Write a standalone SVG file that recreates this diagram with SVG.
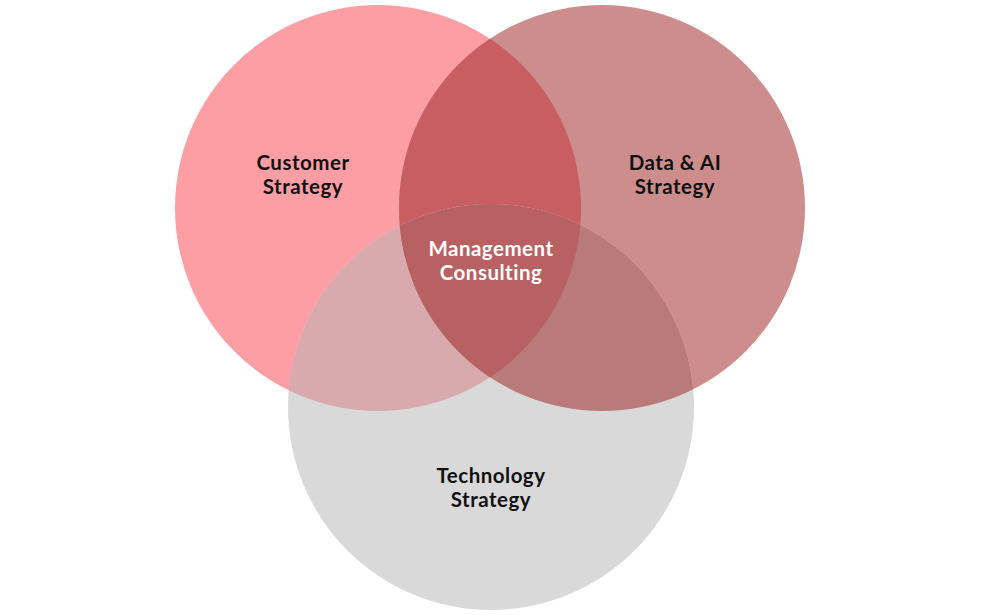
<svg xmlns="http://www.w3.org/2000/svg" width="986" height="615" viewBox="0 0 986 615">
<style>
.lbl{font-family:"Lato","Open Sans","DejaVu Sans",sans-serif;font-weight:700;font-size:20.5px;letter-spacing:0.5px;text-anchor:middle;fill:#111111}
.w{fill:#ffffff}
</style>
<defs>
<clipPath id="clipL"><circle cx="378" cy="208" r="203"/></clipPath>
<clipPath id="clipR"><circle cx="602" cy="208" r="203"/></clipPath>
</defs>
<rect width="986" height="615" fill="#ffffff"/>
<g id="customer">
<circle cx="378" cy="208" r="203" fill="#FD9DA4"/>
</g>
<g id="data-ai">
<circle cx="602" cy="208" r="203" fill="#CD8D8D"/>
<circle cx="602" cy="208" r="203" fill="#C95E62" clip-path="url(#clipL)"/>
</g>
<g id="technology">
<circle cx="491" cy="407" r="203" fill="#D9D9D9"/>
<circle cx="491" cy="407" r="203" fill="#D8A9AD" clip-path="url(#clipL)"/>
<circle cx="491" cy="407" r="203" fill="#B97A7A" clip-path="url(#clipR)"/>
<g clip-path="url(#clipR)"><circle cx="491" cy="407" r="203" fill="#B86163" clip-path="url(#clipL)"/></g>
</g>
<g id="labels">
<text class="lbl" x="303" y="170">Customer</text>
<text class="lbl" x="303" y="194">Strategy</text>
<text class="lbl" x="675" y="170">Data &amp; AI</text>
<text class="lbl" x="675" y="194">Strategy</text>
<text class="lbl w" x="491" y="256">Management</text>
<text class="lbl w" x="491" y="280">Consulting</text>
<text class="lbl" x="491" y="483">Technology</text>
<text class="lbl" x="491" y="507">Strategy</text>
</g>
<g id="connectors"></g>
</svg>
